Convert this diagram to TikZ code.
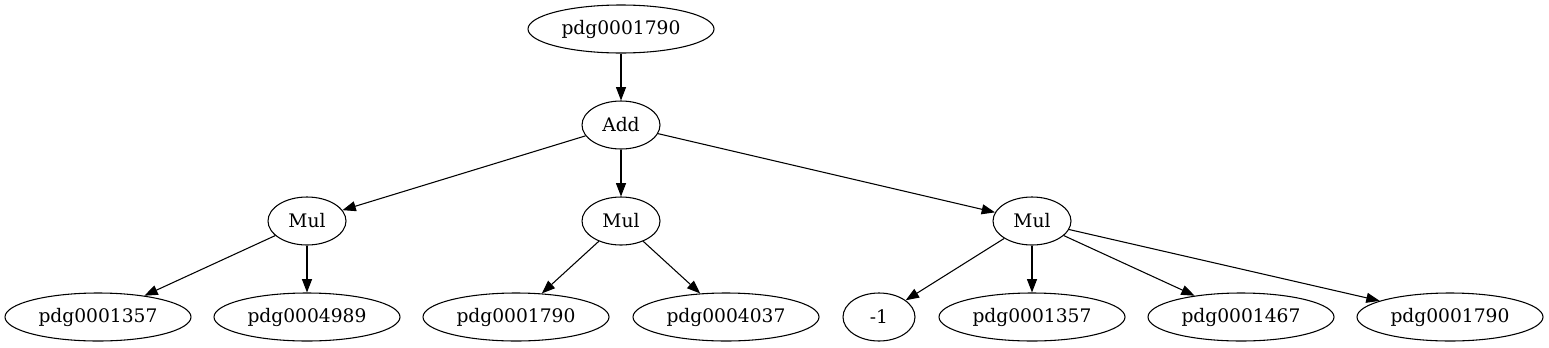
\documentclass[tikz,border=0pt]{standalone}
\usepackage{fontspec}
\setmainfont{DejaVu Serif}
\usepackage{tikz}
\usetikzlibrary{shapes,arrows.meta,positioning}

\begin{document}
\begin{tikzpicture}[
    x=0.75pt, y=-0.75pt,
    op/.style={ellipse, draw, line width=0.8pt, inner sep=0pt, minimum width=58.5pt, minimum height=36pt, font=\fontsize{14}{16}\selectfont},
    var/.style={op, minimum width=139.5pt},
    const/.style={op, minimum width=54pt},
    arrow/.style={-{Triangle[length=10pt,width=7.5pt]}, line width=0.8pt},
]
    \useasboundingbox (0,0) rectangle (1549,347);

    \node[var] (root) at (621,29) {pdg0001790};
    \node[op] (add) at (621,125) {Add};
    \node[op] (mulA) at (307,221) {Mul};
    \node[op] (mulB) at (621,221) {Mul};
    \node[op] (mulC) at (1032,221) {Mul};

    \node[var] (a1357) at (98,317) {pdg0001357};
    \node[var] (a4989) at (307,317) {pdg0004989};
    \node[var] (b1790) at (516,317) {pdg0001790};
    \node[var] (b4037) at (726,317) {pdg0004037};
    \node[const] (cneg) at (879,317) {-1};
    \node[var] (c1357) at (1032,317) {pdg0001357};
    \node[var] (c1467) at (1241,317) {pdg0001467};
    \node[var] (c1790) at (1450,317) {pdg0001790};

    \draw[arrow] (root) -- (add);
    \draw[arrow] (add) -- (mulA);
    \draw[arrow] (add) -- (mulB);
    \draw[arrow] (add) -- (mulC);
    \draw[arrow] (mulA) -- (a1357);
    \draw[arrow] (mulA) -- (a4989);
    \draw[arrow] (mulB) -- (b1790);
    \draw[arrow] (mulB) -- (b4037);
    \draw[arrow] (mulC) -- (cneg);
    \draw[arrow] (mulC) -- (c1357);
    \draw[arrow] (mulC) -- (c1467);
    \draw[arrow] (mulC) -- (c1790);
\end{tikzpicture}
\end{document}
